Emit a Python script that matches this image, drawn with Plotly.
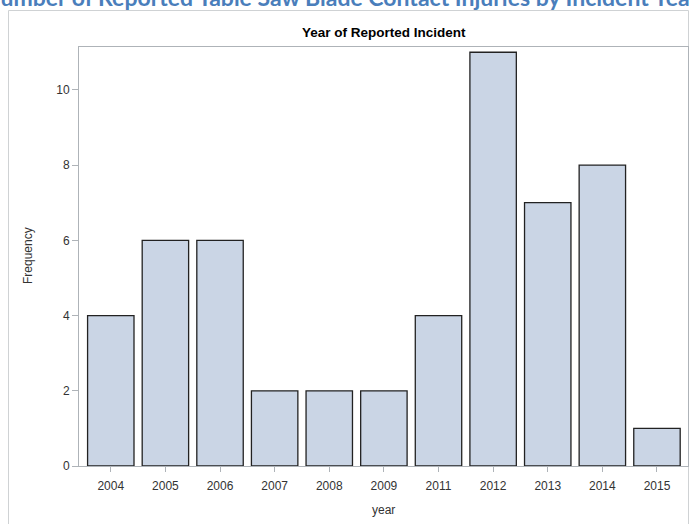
import plotly.graph_objects as go

years = ["2004", "2005", "2006", "2007", "2008", "2009", "2011", "2012", "2013", "2014", "2015"]
frequency = [4, 6, 6, 2, 2, 2, 4, 11, 7, 8, 1]
y_ticks = [0, 2, 4, 6, 8, 10]

W, H = 689, 524
L, R, T, B = 79, 1, 47, 58
pw, ph = W - L - R, H - T - B

def px(x):
    return (x - L) / pw

def py(y):
    return (H - B - y) / ph

axis_col = "#aeb3b8"
txt_col = "#333333"

fig = go.Figure()
fig.add_trace(go.Bar(
    x=years, y=frequency,
    marker=dict(color="#CAD5E5", line=dict(color="#222222", width=1.3)),
    hoverinfo="x+y",
))

fig.update_layout(
    width=W, height=H,
    margin=dict(l=L, r=R, t=T, b=B),
    paper_bgcolor="white", plot_bgcolor="white",
    bargap=0.15,
    showlegend=False,
    font=dict(family="Liberation Sans, Arial, sans-serif", size=12, color=txt_col),
    xaxis=dict(
        type="category", range=[-0.582, 10.568],
        showline=True, linecolor=axis_col, linewidth=1, mirror=True,
        ticks="outside", ticklen=5, tickcolor=axis_col,
        ticklabelstandoff=4,
        showgrid=False, zeroline=False,
        tickfont=dict(size=12, color=txt_col),
    ),
    yaxis=dict(
        range=[0, 11.14], tickvals=y_ticks,
        showline=True, linecolor=axis_col, linewidth=1, mirror=True,
        ticks="outside", ticklen=6, tickcolor=axis_col,
        showgrid=False, zeroline=False,
        tickfont=dict(size=12, color=txt_col),
    ),
    shapes=[
        dict(type="rect", xref="paper", yref="paper",
             x0=px(8.5), x1=px(688.5), y0=py(560), y1=py(10.5),
             line=dict(color="#cfd2d4", width=1), fillcolor="rgba(0,0,0,0)", layer="below"),
    ],
    annotations=[
        dict(text="<b>Number of Reported Table Saw Blade Contact Injuries by Incident Year</b>",
             xref="paper", yref="paper", x=px(341), y=py(13), xanchor="center", yanchor="bottom",
             showarrow=False, font=dict(family="Lato, sans-serif", size=23, color="#4a7ebb")),
        dict(text="<b>Year of Reported Incident</b>",
             xref="paper", yref="paper", x=0.5, y=py(33), xanchor="center", yanchor="middle",
             showarrow=False, font=dict(size=13.5, color="#000000")),
        dict(text="Frequency", textangle=-90,
             xref="paper", yref="paper", x=px(28), y=py(256), xanchor="center", yanchor="middle",
             showarrow=False, font=dict(size=12, color=txt_col)),
        dict(text="year",
             xref="paper", yref="paper", x=0.5, y=py(510), xanchor="center", yanchor="middle",
             showarrow=False, font=dict(size=12, color=txt_col)),
    ],
)

fig.write_html("out.html", config={"displayModeBar": False},
               post_script="document.body.style.margin='0';")
